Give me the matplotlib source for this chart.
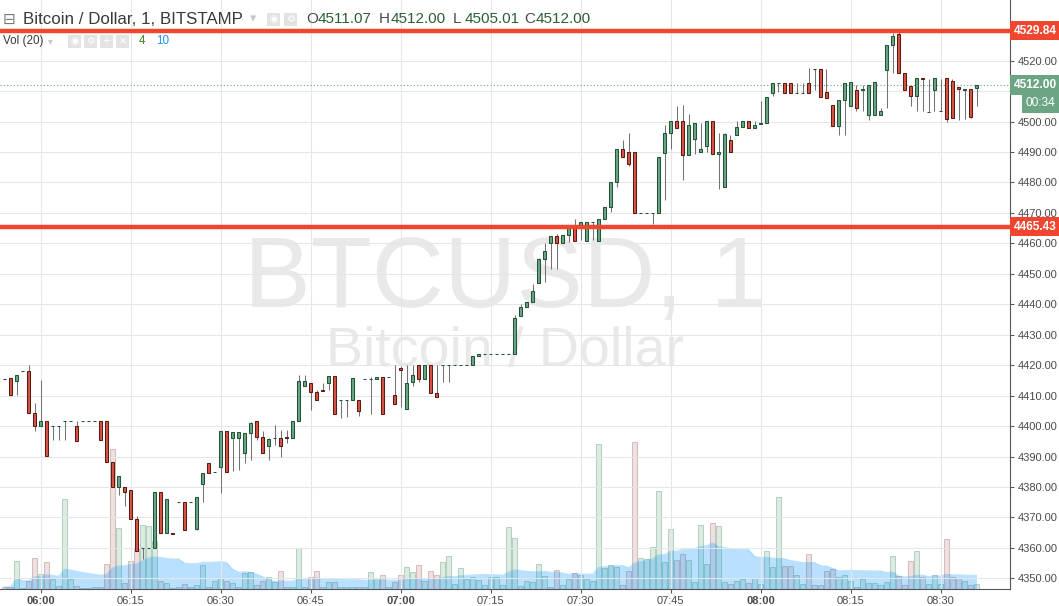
import numpy as np
import pandas as pd
import matplotlib
matplotlib.use("Agg")
import matplotlib.pyplot as plt
import matplotlib.dates as mdates
import matplotlib.transforms as mtransforms
from matplotlib.patches import Rectangle

plt.rcParams['font.family'] = ['Liberation Sans', 'DejaVu Sans']

# BTC/USD 1-minute candles (Bitstamp), first candle 05:54
start_time = "2017-09-05 05:54"

opens = [
    4415.4, 4415.9, 4414.8, 4418.1, 4418.2, 4404.4, 4400.1, 4401.8, 4400.0, 4400.0,
    4401.7, 4401.7, 4400.1, 4401.7, 4401.7, 4401.7, 4401.8, 4401.8, 4388.3, 4380.1,
    4380.1, 4379.1, 4369.6, 4360.0, 4360.0, 4360.1, 4378.5, 4365.0, 4364.8, 4375.1,
    4375.2, 4375.1, 4366.3, 4381.1, 4388.0, 4384.8, 4386.7, 4398.5, 4396.2, 4396.2,
    4391.3, 4397.8, 4401.5, 4396.5, 4393.6, 4396.1, 4396.2, 4396.5, 4396.2, 4401.8,
    4413.0, 4414.3, 4411.3, 4411.7, 4414.3, 4416.6, 4408.6, 4408.6, 4408.7, 4408.7,
    4415.5, 4415.5, 4415.6, 4416.2, 4416.1, 4410.3, 4419.2, 4405.7, 4414.6, 4420.2,
    4415.6, 4420.2, 4411.0, 4419.9, 4420.1, 4420.1, 4420.1, 4420.1, 4420.2, 4423.1,
    4423.7, 4423.7, 4423.7, 4423.7, 4423.7, 4423.8, 4436.3, 4439.2, 4440.9, 4447.1,
    4455.0, 4460.2, 4462.5, 4460.2, 4462.9, 4465.5, 4465.2, 4460.9, 4467.0, 4460.9,
    4468.1, 4472.1, 4480.3, 4491.1, 4490.1, 4490.1, 4470.0, 4470.0, 4470.0, 4470.1,
    4489.8, 4496.4, 4500.3, 4500.3, 4489.1, 4494.4, 4490.1, 4492.1, 4500.3, 4489.5,
    4478.6, 4494.1, 4495.7, 4498.3, 4500.3, 4498.0, 4499.3, 4499.4, 4509.5, 4512.7,
    4512.8, 4512.8, 4509.4, 4509.4, 4512.8, 4517.2, 4517.1, 4509.8, 4505.5, 4498.7,
    4507.2, 4505.2, 4510.2, 4510.2, 4502.3, 4502.3, 4502.3, 4516.9, 4525.2, 4528.6,
    4516.1, 4511.8, 4508.5, 4514.2, 4503.2, 4510.2, 4503.5, 4514.4, 4513.4, 4511.2,
    4510.5, 4510.8, 4511.07,
]
highs = [
    4415.4, 4415.9, 4416.9, 4418.2, 4420.0, 4407.6, 4415.0, 4401.8, 4400.1, 4400.1,
    4401.8, 4401.8, 4401.8, 4401.8, 4401.8, 4401.8, 4401.8, 4401.8, 4388.3, 4383.7,
    4380.1, 4379.1, 4370.6, 4360.1, 4360.1, 4378.5, 4378.5, 4376.2, 4364.8, 4375.2,
    4375.2, 4375.2, 4376.8, 4384.7, 4388.0, 4384.9, 4398.5, 4398.5, 4398.2, 4398.2,
    4397.8, 4401.4, 4401.5, 4398.5, 4396.2, 4400.5, 4398.8, 4398.8, 4401.8, 4416.7,
    4416.7, 4414.3, 4411.9, 4414.3, 4416.6, 4416.6, 4408.7, 4408.7, 4415.9, 4408.7,
    4415.6, 4416.2, 4416.2, 4416.2, 4416.2, 4419.9, 4419.7, 4420.2, 4420.2, 4420.2,
    4420.2, 4420.2, 4420.2, 4420.2, 4420.2, 4420.2, 4420.2, 4420.2, 4423.1, 4423.8,
    4423.8, 4423.8, 4423.8, 4423.8, 4423.8, 4436.5, 4440.0, 4440.9, 4446.8, 4455.2,
    4460.2, 4462.5, 4463.0, 4462.9, 4465.5, 4468.1, 4467.1, 4467.1, 4467.1, 4468.1,
    4472.1, 4480.3, 4491.1, 4494.1, 4496.4, 4490.1, 4470.1, 4470.1, 4470.1, 4488.2,
    4499.0, 4500.3, 4505.2, 4505.5, 4502.6, 4499.4, 4499.4, 4500.3, 4500.3, 4496.4,
    4496.4, 4495.7, 4500.3, 4500.3, 4500.3, 4500.3, 4506.9, 4508.2, 4512.8, 4512.8,
    4512.8, 4512.8, 4512.8, 4512.8, 4517.7, 4517.2, 4517.1, 4517.1, 4505.5, 4507.2,
    4512.5, 4513.1, 4512.1, 4512.1, 4512.1, 4513.1, 4504.6, 4525.2, 4529.2, 4530.2,
    4516.1, 4511.8, 4514.4, 4514.2, 4514.1, 4514.4, 4514.1, 4514.4, 4514.1, 4511.2,
    4510.8, 4510.8, 4512.00,
]
lows = [
    4415.3, 4410.3, 4410.3, 4418.1, 4404.4, 4398.4, 4400.1, 4390.3, 4395.5, 4395.5,
    4395.5, 4401.7, 4395.2, 4401.7, 4401.7, 4401.7, 4395.5, 4388.3, 4380.1, 4377.5,
    4373.7, 4369.6, 4359.1, 4356.5, 4360.0, 4360.1, 4365.0, 4365.0, 4364.7, 4375.1,
    4366.0, 4375.1, 4365.8, 4375.2, 4384.7, 4384.8, 4378.1, 4385.0, 4385.4, 4385.6,
    4388.0, 4388.7, 4395.5, 4391.3, 4388.7, 4393.9, 4390.0, 4394.6, 4396.2, 4401.8,
    4413.0, 4405.4, 4408.7, 4411.6, 4411.9, 4403.8, 4402.5, 4403.0, 4408.7, 4403.4,
    4415.5, 4403.8, 4415.6, 4404.1, 4416.1, 4407.4, 4406.1, 4405.7, 4413.3, 4414.6,
    4415.6, 4411.0, 4409.7, 4414.6, 4414.6, 4420.1, 4420.1, 4420.1, 4420.2, 4423.1,
    4423.7, 4423.7, 4423.7, 4423.7, 4423.7, 4423.8, 4436.3, 4439.2, 4440.9, 4447.1,
    4447.4, 4451.7, 4451.7, 4460.2, 4460.6, 4460.9, 4461.2, 4460.9, 4461.2, 4460.9,
    4468.1, 4470.4, 4478.6, 4488.2, 4485.5, 4470.1, 4470.0, 4470.0, 4466.2, 4470.1,
    4474.4, 4491.1, 4498.0, 4480.9, 4489.1, 4489.5, 4490.1, 4490.1, 4489.5, 4477.7,
    4478.6, 4490.1, 4495.7, 4498.3, 4498.0, 4498.0, 4499.3, 4499.4, 4508.5, 4509.8,
    4509.5, 4509.5, 4509.4, 4509.4, 4509.5, 4510.2, 4508.2, 4507.9, 4498.7, 4495.7,
    4495.7, 4505.2, 4503.6, 4503.6, 4500.6, 4502.3, 4502.3, 4504.6, 4516.1, 4516.1,
    4510.5, 4505.2, 4503.6, 4503.6, 4503.2, 4503.6, 4503.5, 4499.7, 4501.3, 4500.6,
    4501.0, 4501.3, 4505.01,
]
closes = [
    4415.3, 4410.3, 4416.9, 4418.2, 4404.4, 4400.1, 4401.8, 4390.3, 4400.1, 4400.1,
    4401.8, 4401.8, 4395.2, 4401.8, 4401.8, 4401.8, 4395.5, 4388.3, 4380.1, 4383.7,
    4378.5, 4369.6, 4359.1, 4360.1, 4360.1, 4378.5, 4365.0, 4376.2, 4364.7, 4375.2,
    4366.0, 4375.2, 4376.8, 4384.7, 4384.7, 4384.9, 4398.5, 4385.0, 4398.2, 4398.2,
    4397.8, 4401.1, 4396.5, 4391.3, 4395.9, 4396.2, 4393.3, 4396.2, 4401.8, 4414.9,
    4414.9, 4411.3, 4408.7, 4411.6, 4416.6, 4403.8, 4408.7, 4408.7, 4415.9, 4405.1,
    4415.6, 4415.6, 4416.2, 4404.1, 4416.2, 4407.4, 4418.5, 4414.3, 4416.9, 4415.6,
    4420.2, 4411.0, 4409.7, 4420.2, 4420.2, 4420.2, 4420.2, 4420.2, 4423.1, 4423.8,
    4423.8, 4423.8, 4423.8, 4423.8, 4423.8, 4435.6, 4439.2, 4440.9, 4444.2, 4454.7,
    4457.6, 4462.5, 4460.2, 4462.9, 4465.5, 4460.9, 4467.1, 4467.1, 4467.1, 4468.1,
    4472.1, 4480.3, 4491.1, 4488.2, 4485.9, 4470.1, 4470.1, 4470.1, 4470.1, 4488.2,
    4496.4, 4500.3, 4498.0, 4489.1, 4499.0, 4499.4, 4491.1, 4500.3, 4489.5, 4490.1,
    4496.0, 4490.1, 4498.3, 4500.3, 4498.0, 4499.0, 4499.4, 4508.2, 4512.8, 4512.8,
    4509.5, 4509.5, 4509.5, 4509.5, 4509.5, 4517.1, 4508.2, 4507.9, 4498.7, 4507.2,
    4512.5, 4513.1, 4504.3, 4510.8, 4512.1, 4513.1, 4503.6, 4525.2, 4528.2, 4516.1,
    4510.5, 4508.5, 4514.4, 4514.1, 4503.3, 4514.4, 4503.6, 4501.0, 4501.3, 4510.8,
    4510.8, 4501.6, 4512.00,
]
volumes = [
    2, 2.3, 28, 1, 7.7, 31, 15, 27, 9.7, 3,
    90, 10, 3, 1, 1, 1.7, 2.3, 25, 140, 61,
    6, 28, 40, 64, 63, 48, 8, 6, 1.3, 1.7,
    4.7, 1.7, 4, 24, 1.7, 7.8, 10.8, 7.8, 6, 2.3,
    16, 17, 4.3, 7.8, 11.8, 7.1, 18, 2.4, 2.4, 41,
    2.4, 12.5, 17.6, 2.4, 6.8, 6.8, 2.4, 2.4, 2.4, 2.4,
    2.4, 17, 10.8, 14, 2.4, 6.8, 14, 22, 17, 24,
    8, 18, 14, 27, 33, 5, 21, 10, 12, 9.5,
    4.4, 11.8, 11.8, 4.4, 62, 51, 3.3, 8, 7.4, 24.7,
    13.5, 2.4, 18.6, 4.4, 9.8, 15.9, 13.9, 9.8, 8.5, 145,
    21.3, 23.7, 22.3, 3.7, 17.9, 147, 30.8, 29.7, 41.9, 97.7,
    26.7, 60.2, 29.1, 34.8, 29.1, 6.8, 64.2, 24.7, 66.3, 63.2,
    7.4, 5.4, 8.1, 9.8, 6.4, 10.8, 5.4, 37.9, 21.6, 91.6,
    22.6, 22.6, 14.5, 5.4, 34.8, 4.4, 4.4, 17.6, 20.3, 12.2,
    14.5, 7.8, 1.7, 10.1, 5.7, 5.7, 4.4, 6.8, 33.1, 13.5,
    3.7, 27.7, 38.2, 11.8, 5.4, 14.5, 5.4, 50, 12.5, 10.8,
    7.8, 3.7, 5.4,
]

resistance = 4529.84
support = 4465.43
last_price = 4512.00
countdown = "00:34"
price_ticks = np.arange(4350, 4531, 10)
hidden_ticks = [4510, 4530]   # covered by the price boxes in the original
time_ticks = pd.date_range("2017-09-05 06:00", "2017-09-05 08:30", freq="15min")

UP, DOWN = '#6ba583', '#d75442'
UP_EDGE, DOWN_EDGE = '#225437', '#5b1a13'
WICK = '#737375'
LEVEL_RED = '#f0452f'
AXIS_TXT = '#4a4a4a'

W, H = 1059, 606
fig = plt.figure(figsize=(W / 100, H / 100), dpi=100)


def fx(px):
    return px / W


def fy(py):
    return 1 - py / H


plot_right, plot_bottom = 1009.5, 589
rect = [0, fy(plot_bottom), fx(plot_right), plot_bottom / H]
ax_vol = fig.add_axes(rect)
ax = fig.add_axes(rect, sharex=ax_vol)
ax.patch.set_visible(False)

times = pd.date_range(start_time, periods=len(opens), freq="1min")
t = mdates.date2num(times)
o, hi, lo, c = (np.array(v, dtype=float) for v in (opens, highs, lows, closes))
vol = np.array(volumes, dtype=float)
up = c >= o
minute = 1 / 1440

# ---- volume pane (bottom overlay) ----
vol_up_fc = (0.42, 0.65, 0.51, 0.22)
vol_up_ec = (0.42, 0.65, 0.51, 0.45)
vol_dn_fc = (0.62, 0.36, 0.36, 0.18)
vol_dn_ec = (0.62, 0.36, 0.36, 0.35)
ax_vol.bar(t[up], vol[up], width=0.9 * minute, color=vol_up_fc, edgecolor=vol_up_ec,
           linewidth=0.75, zorder=2)
ax_vol.bar(t[~up], vol[~up], width=0.9 * minute, color=vol_dn_fc, edgecolor=vol_dn_ec,
           linewidth=0.75, zorder=2)
vol_ma = pd.Series(vol).rolling(20, min_periods=1).mean().values
ax_vol.fill_between(t, 0, vol_ma, color='#0496ff', alpha=0.28, linewidth=0, zorder=3)
ax_vol.plot(t, vol_ma, color='#0496ff', alpha=0.25, linewidth=0.8, zorder=3)
ax_vol.set_ylim(0, plot_bottom)
ax_vol.set_yticks([])
ax_vol.tick_params(axis='x', which='both', bottom=False, labelbottom=False)
for s in ax_vol.spines.values():
    s.set_visible(False)

# watermark
ax_vol.text(0.5, 0.479, "BTCUSD, 1", transform=ax_vol.transAxes, ha='center',
            va='baseline', fontsize=72, color='#e9e9e9', zorder=0)
ax_vol.text(0.5, 0.378, "Bitcoin / Dollar", transform=ax_vol.transAxes, ha='center',
            va='baseline', fontsize=40, color='#e9e9e9', zorder=0)

# ---- candles ----
ax.vlines(t, lo, hi, color=WICK, linewidth=0.75, zorder=2)
bw = 0.64 * minute
ax.bar(t[up], (c - o)[up], bottom=o[up], width=bw, color=UP, edgecolor=UP_EDGE,
       linewidth=0.75, zorder=3)
ax.bar(t[~up], (o - c)[~up], bottom=c[~up], width=bw, color=DOWN, edgecolor=DOWN_EDGE,
       linewidth=0.75, zorder=3)

# levels
ax.axhline(last_price, color=UP, linewidth=0.8, linestyle=(0, (1, 2)), zorder=1.5)
for lvl in (resistance, support):
    ax.axhline(lvl, color=LEVEL_RED, linewidth=3.2, zorder=4)

ax.set_xlim(mdates.date2num(pd.Timestamp("2017-09-05 05:53:15")),
            mdates.date2num(pd.Timestamp("2017-09-05 08:41:30")))
ax.set_ylim(4346.49, 4539.92)

ax.grid(True, color='#e6e6e6', linewidth=0.75)
ax.set_axisbelow(True)
ax.set_yticks(price_ticks)
ax.set_yticklabels(["" if p in hidden_ticks else f"{p:.2f}" for p in price_ticks])
ax.yaxis.tick_right()
ax.set_xticks(mdates.date2num(time_ticks))
ax.set_xticklabels([ts.strftime("%H:%M") for ts in time_ticks])
for lab, ts in zip(ax.get_xticklabels(), time_ticks):
    if ts.minute == 0:
        lab.set_fontweight('bold')
ax.tick_params(axis='y', direction='out', length=3, width=0.75, color='#555555',
               labelsize=8, labelcolor=AXIS_TXT, pad=3)
ax.tick_params(axis='x', direction='out', length=3, width=0.75, color='#555555',
               labelsize=8, labelcolor=AXIS_TXT, pad=2)
for side in ('top', 'left'):
    ax.spines[side].set_visible(False)
for side in ('right', 'bottom'):
    ax.spines[side].set_color('#555555')
    ax.spines[side].set_linewidth(0.8)

# price labels on the axis
blend = mtransforms.blended_transform_factory(ax.transAxes, ax.transData)
for lvl, fc in ((resistance, LEVEL_RED), (support, LEVEL_RED), (last_price, UP)):
    ax.text(1.004, lvl, f"{lvl:.2f}", transform=blend, ha='left', va='center',
            color='white', fontsize=8.6, fontweight='bold', zorder=10, clip_on=False,
            bbox=dict(boxstyle='square,pad=0.3', fc=fc, ec='none'))
ax.annotate(countdown, xy=(1.0, last_price), xycoords=blend, xytext=(16, -18),
            textcoords='offset pixels', ha='left', va='center', color='white',
            fontsize=8.6, zorder=10, annotation_clip=False,
            bbox=dict(boxstyle='square,pad=0.3', fc=UP, ec='none'))

# ---- header ----
fig.text(fx(3), fy(19), "\u229f", fontsize=11, color='#777777', va='center',
         family='DejaVu Sans')
fig.text(fx(23), fy(19), "Bitcoin / Dollar, 1, BITSTAMP", fontsize=12.2, color='#3a3a3a',
         va='center')
fig.text(fx(250), fy(19), "\u25be", fontsize=9, color='#c8c8c8', va='center',
         family='DejaVu Sans')


def icon_box(x, y, sym, size=12):
    fig.add_artist(Rectangle((fx(x), fy(y + size / 2)), size / W, size / H,
                             transform=fig.transFigure, fc='#e3e3e3', ec='none'))
    fig.text(fx(x + size / 2), fy(y), sym, fontsize=7, color='white', ha='center',
             va='center', family='DejaVu Sans')


icon_box(267, 19, "\u25c9", size=13)
icon_box(284, 19, "\u2699", size=13)

ohlc_txt = [("O", 306, opens[-1]), ("H", 379, highs[-1]), ("L", 453, lows[-1]),
            ("C", 524, closes[-1])]
for key, xp, val in ohlc_txt:
    fig.text(fx(xp), fy(19), key, fontsize=11, color='#4a4a4a', va='center')
    fig.text(fx(xp + 11.5), fy(19), f"{val:.2f}", fontsize=11, color='#2c5e36',
             va='center')

fig.text(fx(3), fy(41), "Vol (20)", fontsize=8.4, color='#3a3a3a', va='center')
fig.text(fx(48), fy(41), "\u25be", fontsize=7, color='#c8c8c8', va='center',
         family='DejaVu Sans')
for i, sym in enumerate(["\u25c9", "\u2699", "+", "\u2715"]):
    icon_box(68 + i * 16, 41, sym, size=13)
fig.text(fx(139), fy(41), "4", fontsize=8.4, color='#3c8c28', va='center')
fig.text(fx(156), fy(41), "10", fontsize=8.4, color='#2196f3', va='center')

fig.savefig("out.png", dpi=100)
